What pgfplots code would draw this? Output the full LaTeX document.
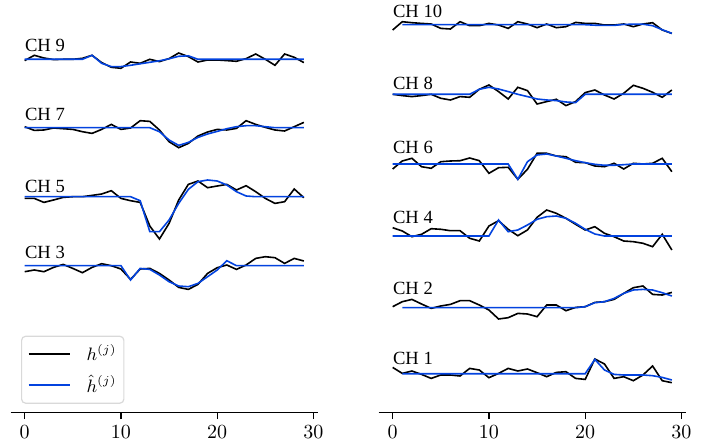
\documentclass[border=0pt]{standalone}
\usepackage{fontspec}
\usepackage{pgfplots}
\usepackage{pgfplotstable}
\pgfplotsset{compat=1.18}
\newfontfamily\chfont{Liberation Serif}
\definecolor{hatblue}{HTML}{0343DF}

% columns: x, observed h, fitted hhat (amplitudes, baseline 0)
\pgfplotstableread{
x h hh
0 -0.13 0
1 0.40 0
2 0.13 0
3 -0.03 0
4 0.00 0
5 0.00 0
6 0.10 0
7 0.40 0.40
8 -0.33 -0.40
9 -0.80 -0.73
10 -0.90 -0.73
11 -0.27 -0.60
12 -0.40 -0.45
13 0.00 -0.30
14 -0.23 -0.15
15 0.07 0.05
16 0.63 0.30
17 0.27 0.35
18 -0.27 0
19 -0.07 0
20 -0.07 0
21 -0.13 0
22 -0.20 0
23 0.07 0
24 0.53 0
25 0.00 0
26 -0.60 0
27 0.53 0
28 0.20 0
29 -0.33 0
}\chnine
\pgfplotstableread{
x h hh
0 0.10 0
1 -0.27 0
2 -0.23 0
3 -0.03 0
4 -0.10 0
5 -0.17 0
6 -0.40 0
7 -0.57 0
8 -0.17 0
9 0.33 0
10 -0.17 0
11 -0.03 0
12 0.70 0
13 0.63 0
14 -0.23 -0.40
15 -1.40 -1.23
16 -2.00 -1.77
17 -1.57 -1.47
18 -0.83 -0.97
19 -0.43 -0.63
20 -0.17 -0.37
21 -0.23 -0.10
22 -0.07 0.10
23 0.70 0.20
24 0.33 0.20
25 0.03 0.10
26 -0.23 0
27 -0.33 0
28 0.10 0
29 0.53 0
}\chseven
\pgfplotstableread{
x h hh
0 -0.17 0
1 -0.17 0
2 -0.57 0
3 -0.33 0
4 -0.07 0
5 0.00 0
6 0.00 0
7 0.13 0
8 0.27 0
9 0.60 0
10 -0.17 0
11 -0.40 0
12 -0.57 -0.40
13 -2.93 -3.50
14 -4.23 -3.50
15 -2.67 -2.33
16 -0.33 -0.67
17 1.23 0.73
18 1.57 1.50
19 0.90 1.67
20 1.07 1.57
21 1.23 1.17
22 0.67 0.50
23 1.10 0.07
24 0.50 0
25 -0.17 0
26 -0.67 0
27 -0.50 0
28 0.77 0
29 -0.10 0
}\chfive
\pgfplotstableread{
x h hh
0 -0.60 0
1 -0.43 0
2 -0.60 0
3 -0.17 0
4 0.13 0
5 -0.27 0
6 -0.70 0
7 -0.17 0
8 0.20 0
9 0.00 0
10 -0.33 0
11 -1.37 -1.43
12 -0.33 -0.27
13 -0.27 -0.37
14 -0.77 -0.93
15 -1.43 -1.60
16 -2.17 -2.03
17 -2.37 -2.10
18 -1.87 -1.77
19 -0.77 -1.10
20 -0.20 -0.43
21 0.07 0.50
22 -0.37 0
23 0.07 0
24 0.73 0
25 0.90 0
26 0.80 0
27 0.23 0
28 0.73 0
29 0.47 0
}\chthree
\pgfplotstableread{
x h hh
0 -0.53 0
1 0.30 0
2 0.20 0
3 0.13 0
4 0.07 0
5 -0.37 0
6 -0.43 0
7 0.30 0
8 -0.10 0
9 -0.10 0
10 0.13 0
11 -0.03 0
12 -0.37 0
13 0.30 0
14 0.07 0
15 -0.30 0
16 0.07 0
17 -0.30 0
18 -0.20 0
19 0.23 0
20 0.13 0
21 0.13 -0.05
22 -0.03 -0.07
23 -0.03 -0.07
24 0.07 0.03
25 -0.20 0.05
26 0.07 0.05
27 0.20 -0.10
28 -0.53 -0.50
29 -0.87 -0.87
}\chten
\pgfplotstableread{
x h hh
0 0.00 0
1 -0.13 0
2 -0.23 0
3 -0.13 0
4 0.00 0
5 -0.40 0
6 -0.57 0
7 -0.23 0
8 -0.30 0
9 0.50 0.50
10 0.93 0.70
11 0.27 0.53
12 -0.47 0.27
13 0.70 0.00
14 0.37 -0.23
15 -0.97 -0.47
16 -0.73 -0.57
17 -0.50 -0.63
18 -1.13 -0.77
19 -0.73 -0.83
20 0.17 0
21 0.43 0
22 -0.07 0
23 -0.47 0
24 0.10 0
25 0.90 0
26 0.60 0
27 0.20 0
28 -0.30 0
29 0.43 0
}\cheight
\pgfplotstableread{
x h hh
0 -0.50 0
1 0.30 0
2 0.57 0
3 -0.27 0
4 -0.43 0
5 0.23 0
6 0.30 0
7 0.33 0
8 0.60 0
9 0.33 0
10 -0.93 0
11 -0.37 0
12 -0.33 0
13 -1.53 -1.53
14 -0.53 0.23
15 1.07 0.90
16 1.07 1.00
17 0.80 0.80
18 0.73 0.57
19 0.17 0.33
20 0.13 0.13
21 -0.20 -0.03
22 -0.27 -0.13
23 0.07 -0.13
24 -0.50 -0.07
25 0.07 0
26 0.00 0
27 0.07 0
28 0.57 0
29 -0.77 0
}\chsix
\pgfplotstableread{
x h hh
0 0.83 0
1 0.50 0
2 -0.07 0
3 0.17 0
4 0.73 0
5 0.67 0
6 0.53 0
7 0.53 0
8 -0.23 0
9 -0.50 0
10 1.00 0
11 1.53 1.60
12 0.67 0.43
13 0.03 0.60
14 0.60 1.10
15 1.87 1.67
16 2.60 1.93
17 2.27 2.00
18 1.77 1.77
19 1.17 1.27
20 0.60 0.67
21 0.93 0.20
22 0.27 0
23 -0.07 0
24 -0.50 0
25 -0.57 0
26 -0.73 0
27 -1.07 0
28 0.17 0
29 -1.40 0
}\chfour
\pgfplotstableread{
x h hh
0 0.10 0
1 0.60 0
2 0.83 0
3 0.37 0
4 -0.07 0
5 0.17 0
6 0.33 0
7 0.70 0
8 0.70 0
9 0.27 0
10 -0.23 0
11 -1.13 0
12 -1.00 0
13 -0.57 0
14 -0.63 0
15 -0.90 0
16 0.27 0
17 0.27 0
18 -0.30 0
19 0.03 0
20 0.10 0.10
21 0.53 0.50
22 0.60 0.60
23 0.83 0.93
24 1.43 1.43
25 2.00 1.77
26 2.17 1.83
27 1.33 1.77
28 1.27 1.50
29 1.53 1.17
}\chtwo
\pgfplotstableread{
x h hh
0 0.63 0
1 0.03 0
2 0.27 0
3 -0.07 0
4 -0.47 0
5 -0.13 0
6 -0.13 0
7 -0.23 0
8 0.53 0
9 0.37 0
10 -0.40 0
11 0.03 0
12 0.53 0
13 0.27 0
14 0.47 0
15 0.10 0
16 -0.30 0
17 0.13 0
18 0.20 0
19 -0.47 0
20 -0.57 0
21 1.47 1.43
22 0.97 0.37
23 -0.47 -0.07
24 -0.30 -0.13
25 -0.70 -0.13
26 -0.13 -0.13
27 0.77 -0.20
28 -0.70 -0.37
29 -0.90 -0.63
}\chone

\pgfplotsset{
  chpanel/.style={
    scale only axis,
    anchor=south west,
    width=153.8pt, height=206.35pt,
    xmin=-1.45, xmax=30.5, ymin=0, ymax=41.27,
    axis y line=none,
    axis x line*=bottom,
    xtick={0,10,20,30},
    tick align=outside,
    major tick length=3.15pt,
    every outer x axis line/.append style={line width=0.65pt},
    every tick/.append style={line width=0.65pt, black},
    tick label style={font=\fontsize{10}{12}\selectfont},
    clip=false,
  },
  hobs/.style={black, line width=0.8pt},
  hfit/.style={hatblue, line width=0.8pt},
}

\begin{document}
\begin{tikzpicture}
\path[use as bounding box] (0,0) rectangle (359pt,222.5pt);

% left panel: odd channels
\begin{axis}[chpanel, at={(5.35pt,16.15pt)},
  legend style={at={(0.0335,0.1866)}, anchor=north west,
    draw=black!15, rounded corners=2pt, line width=0.6pt,
    font=\fontsize{9}{10}\selectfont,
    inner xsep=3.15pt, inner ysep=3.5pt, row sep=4.5pt,
    nodes={inner sep=0.5pt}},
  legend cell align=left,
  legend image code/.code={\draw[#1] (0pt,0pt) -- (20.8pt,0pt); \path (28pt,0pt);},
]
\addplot[hobs] table[x=x, y expr=\thisrow{h}+35.34] {\chnine};
\addlegendentry{$h^{(j)}$}
\addplot[hfit] table[x=x, y expr=\thisrow{hh}+35.34] {\chnine};
\addlegendentry{$\hat{h}^{(j)}$}
\addplot[hobs] table[x=x, y expr=\thisrow{h}+28.5] {\chseven};
\addplot[hfit] table[x=x, y expr=\thisrow{hh}+28.5] {\chseven};
\addplot[hobs] table[x=x, y expr=\thisrow{h}+21.6] {\chfive};
\addplot[hfit] table[x=x, y expr=\thisrow{hh}+21.6] {\chfive};
\addplot[hobs] table[x=x, y expr=\thisrow{h}+14.7] {\chthree};
\addplot[hfit] table[x=x, y expr=\thisrow{hh}+14.7] {\chthree};
\node[anchor=base west, font=\chfont\fontsize{9.3}{11}\selectfont, inner sep=0pt] at (axis cs:0,36.1) {CH 9};
\node[anchor=base west, font=\chfont\fontsize{9.3}{11}\selectfont, inner sep=0pt] at (axis cs:0,29.2) {CH 7};
\node[anchor=base west, font=\chfont\fontsize{9.3}{11}\selectfont, inner sep=0pt] at (axis cs:0,22.0) {CH 5};
\node[anchor=base west, font=\chfont\fontsize{9.3}{11}\selectfont, inner sep=0pt] at (axis cs:0,15.37) {CH 3};
\end{axis}

% right panel: even channels and CH 1
\begin{axis}[chpanel, at={(189.35pt,16.15pt)}]
\addplot[hobs] table[x=x, y expr=\thisrow{h}+38.8] {\chten};
\addplot[hfit, skip coords between index={0}{1}] table[x=x, y expr=\thisrow{hh}+38.8] {\chten};
\addplot[hobs] table[x=x, y expr=\thisrow{h}+31.84] {\cheight};
\addplot[hfit] table[x=x, y expr=\thisrow{hh}+31.84] {\cheight};
\addplot[hobs] table[x=x, y expr=\thisrow{h}+24.87] {\chsix};
\addplot[hfit] table[x=x, y expr=\thisrow{hh}+24.87] {\chsix};
\addplot[hobs] table[x=x, y expr=\thisrow{h}+17.67] {\chfour};
\addplot[hfit] table[x=x, y expr=\thisrow{hh}+17.67] {\chfour};
\addplot[hobs] table[x=x, y expr=\thisrow{h}+10.5] {\chtwo};
\addplot[hfit, skip coords between index={0}{1}] table[x=x, y expr=\thisrow{hh}+10.5] {\chtwo};
\addplot[hobs] table[x=x, y expr=\thisrow{h}+3.9] {\chone};
\addplot[hfit, skip coords between index={0}{1}] table[x=x, y expr=\thisrow{hh}+3.9] {\chone};
\node[anchor=base west, font=\chfont\fontsize{9.3}{11}\selectfont, inner sep=0pt] at (axis cs:0,39.54) {CH 10};
\node[anchor=base west, font=\chfont\fontsize{9.3}{11}\selectfont, inner sep=0pt] at (axis cs:0,32.27) {CH 8};
\node[anchor=base west, font=\chfont\fontsize{9.3}{11}\selectfont, inner sep=0pt] at (axis cs:0,25.87) {CH 6};
\node[anchor=base west, font=\chfont\fontsize{9.3}{11}\selectfont, inner sep=0pt] at (axis cs:0,18.87) {CH 4};
\node[anchor=base west, font=\chfont\fontsize{9.3}{11}\selectfont, inner sep=0pt] at (axis cs:0,11.84) {CH 2};
\node[anchor=base west, font=\chfont\fontsize{9.3}{11}\selectfont, inner sep=0pt] at (axis cs:0,4.87) {CH 1};
\end{axis}
\end{tikzpicture}
\end{document}
